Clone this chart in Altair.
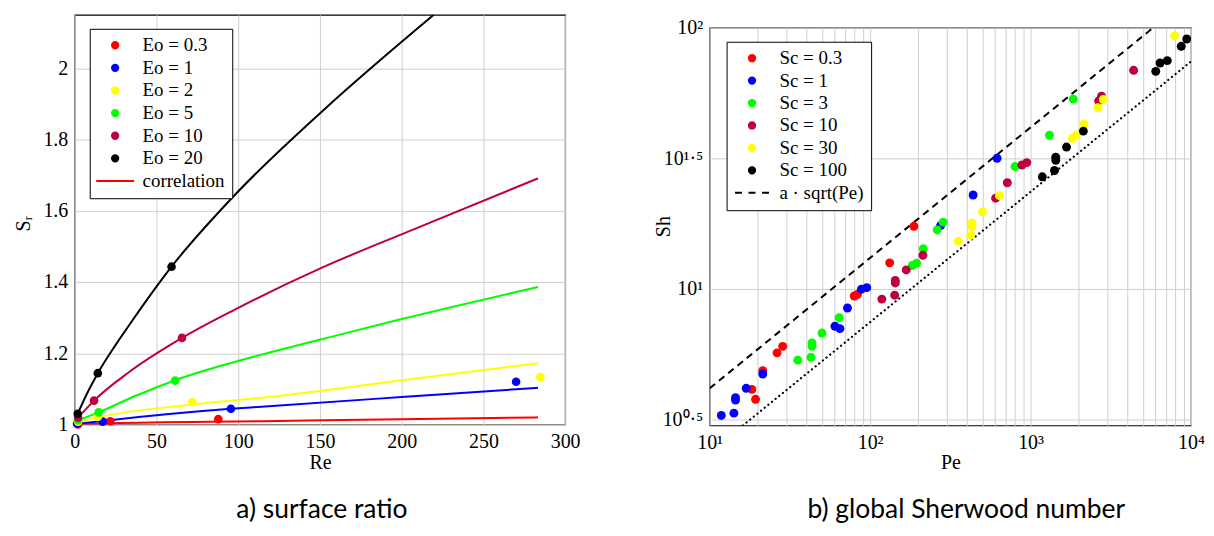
import altair as alt
import pandas as pd

SERIF = "Liberation Serif"

# ---------------- a) surface ratio ----------------
eo_labels = ["Eo = 0.3", "Eo = 1", "Eo = 2", "Eo = 5", "Eo = 10", "Eo = 20", "correlation"]
eo_colors = ["#ff0000", "#0000ff", "#ffff00", "#00ff00", "#bf0040", "#000000", "#ff0000"]
eo_shapes = ["circle"] * 6 + ["M-6,0H6"]

# simulation points (Re, S_r)
pt_re = {
    "Eo = 0.3": [2.0, 21.7, 87.8],
    "Eo = 1": [1.4, 17.1, 95.5, 270.0],
    "Eo = 2": [2.0, 14.2, 71.9, 284.9],
    "Eo = 5": [2.0, 14.6, 61.4],
    "Eo = 10": [2.0, 11.8, 65.6],
    "Eo = 20": [1.8, 14.1, 59.2],
}
pt_sr = {
    "Eo = 0.3": [1.000, 1.009, 1.015],
    "Eo = 1": [1.002, 1.008, 1.044, 1.120],
    "Eo = 2": [1.008, 1.022, 1.0625, 1.133],
    "Eo = 5": [1.012, 1.034, 1.123],
    "Eo = 10": [1.019, 1.067, 1.243],
    "Eo = 20": [1.030, 1.144, 1.443],
}
# correlation curves (Re, S_r)
cu_re = {
    "Eo = 0.3": [2.0, 21.7, 114.2, 200.0, 283.4],
    "Eo = 1": [2.0, 17.1, 95.5, 114.2, 200.0, 283.4],
    "Eo = 2": [2.0, 14.2, 72.0, 114.2, 200.0, 283.4],
    "Eo = 5": [2.0, 14.6, 37.0, 61.9, 114.2, 151.6, 200.0, 283.4],
    "Eo = 10": [2.0, 11.8, 32.9, 65.6, 98.5, 151.6, 204.7, 283.4],
    "Eo = 20": [1.8, 7.5, 14.1, 24.8, 34.5, 59.2, 96.4, 151.6, 219.6],
}
cu_sr = {
    "Eo = 0.3": [1.000, 1.003, 1.009, 1.015, 1.020],
    "Eo = 1": [1.002, 1.010, 1.044, 1.050, 1.077, 1.103],
    "Eo = 2": [1.006, 1.020, 1.056, 1.075, 1.124, 1.172],
    "Eo = 5": [1.012, 1.034, 1.080, 1.125, 1.196, 1.240, 1.296, 1.386],
    "Eo = 10": [1.019, 1.067, 1.146, 1.243, 1.324, 1.441, 1.543, 1.691],
    "Eo = 20": [1.030, 1.087, 1.144, 1.222, 1.287, 1.443, 1.637, 1.880, 2.150],
}

re_ticks = [0, 50, 100, 150, 200, 250, 300]
sr_ticks = [1.0, 1.2, 1.4, 1.6, 1.8, 2.0]

# ---------------- b) global Sherwood number ----------------
sc_labels = ["Sc = 0.3", "Sc = 1", "Sc = 3", "Sc = 10", "Sc = 30", "Sc = 100", "a · sqrt(Pe)"]
sc_colors = ["#ff0000", "#0000ff", "#00ff00", "#bf0040", "#ffff00", "#000000", "#000000"]
sc_shapes = ["circle"] * 6 + ["M-5.4,0H-3.2M-1.1,0H1.1M3.2,0H5.4"]

pe = {
    "Sc = 0.3": [19.32, 18.32, 21.43, 26.30, 28.51, 79.62, 83.37, 132.4, 187.5],
    "Sc = 1": [11.82, 14.16, 14.49, 14.49, 16.90, 21.43, 60.39, 64.86, 72.28, 88.31, 95.28, 274.8, 438.5, 618.0],
    "Sc = 3": [35.40, 42.76, 43.45, 43.45, 50.12, 64.12, 183.2, 195.0, 214.3, 261.8, 285.1, 799.8, 1312, 1845],
    "Sc = 10": [118.3, 142.2, 143.5, 143.5, 167.9, 213.3, 605.3, 716.1, 883.1, 946.2, 2655, 2767, 4385],
    "Sc = 30": [354.0, 422.7, 431.5, 431.5, 501.2, 639.7, 1820, 1928, 2153, 2630, 2838, 7907],
    "Sc = 100": [1183, 1409, 1435, 1435, 1675, 2133, 6026, 6412, 7112, 8690, 9397],
}
sh = {
    "Sc = 0.3": [3.767, 4.111, 4.853, 5.675, 6.012, 9.376, 9.506, 12.56, 17.34],
    "Sc = 1": [3.266, 3.334, 3.819, 3.741, 4.150, 4.710, 7.178, 7.031, 8.433, 9.954, 10.09, 17.46, 22.86, 31.62],
    "Sc = 3": [5.321, 5.458, 6.012, 6.194, 6.761, 7.745, 12.27, 12.53, 14.22, 16.79, 17.99, 29.38, 38.73, 53.33],
    "Sc = 10": [9.120, 9.441, 10.52, 10.76, 11.80, 13.43, 22.23, 25.47, 29.79, 30.41, 52.48, 54.70, 68.71],
    "Sc = 30": [15.21, 16.00, 17.26, 17.86, 19.72, 22.75, 37.67, 38.82, 42.66, 49.43, 53.09, 93.11],
    "Sc = 100": [26.85, 28.38, 31.05, 31.92, 34.91, 40.18, 68.08, 73.28, 74.82, 84.92, 90.57],
}
# upper (dashed, a*sqrt(Pe)) and lower (dotted) bounds, end points
dash_pe = [10.0, 5800.0]
dash_sh = [4.15, 100.0]
dot_pe = [16.1, 10000.0]
dot_sh = [2.99, 74.3]

pe_grid = [m * 10 ** k for k in range(1, 4) for m in range(1, 10)] + [10000]
sh_ticks = [3.1623, 10, 31.623, 100]

# ---------------- build tables ----------------
pts_a = pd.DataFrame([(l, x, y) for l in eo_labels[:6] for x, y in zip(pt_re[l], pt_sr[l])],
                     columns=["label", "Re", "Sr"])
cur_a = pd.DataFrame([(l, x, y) for l in eo_labels[:6] for x, y in zip(cu_re[l], cu_sr[l])],
                     columns=["label", "Re", "Sr"])
pts_b = pd.DataFrame([(l, x, y) for l in sc_labels[:6] for x, y in zip(pe[l], sh[l])],
                     columns=["label", "Pe", "Sh"])
dash_b = pd.DataFrame({"label": sc_labels[6], "Pe": dash_pe, "Sh": dash_sh})
dot_b = pd.DataFrame({"Pe": dot_pe, "Sh": dot_sh})

legend_common = dict(
    title=None, orient="none", strokeColor="black", fillColor="white",
    padding=7, symbolSize=40, symbolStrokeWidth=2,
    labelFont=SERIF, labelFontSize=19, labelColor="black",
    symbolOffset=9, labelOffset=18, cornerRadius=0,
)
axis_text = dict(labelFont=SERIF, labelFontSize=20, labelColor="black", labelPadding=7,
                 titleFont=SERIF, titleFontSize=20, titleFontWeight="normal", titleColor="black")

# ---- panel a ----
sa_col = alt.Scale(domain=eo_labels, range=eo_colors)
sa_shape = alt.Scale(domain=eo_labels, range=eo_shapes)
leg_a = alt.Legend(legendX=15, legendY=14, rowPadding=2.7, **legend_common)

xa = alt.X("Re:Q", scale=alt.Scale(domain=[0, 300], nice=False),
           axis=alt.Axis(values=re_ticks, title="Re", titlePadding=1, labelFlush=False, **axis_text))
ya = alt.Y("Sr:Q", scale=alt.Scale(domain=[1, 2.15], nice=False, zero=False),
           axis=alt.Axis(values=sr_ticks, format=".1~f", title="Sᵣ",
                         titleX=-51, titleY=209, titleAngle=270,
                         titleAlign="center", titleBaseline="middle", **axis_text))

lines_a = alt.Chart(cur_a).mark_line(strokeWidth=2, interpolate="monotone", clip=True).encode(
    x=xa, y=ya,
    stroke=alt.Stroke("label:N", scale=sa_col, legend=leg_a),
)
points_a = alt.Chart(pts_a).mark_point(filled=True, size=75, opacity=1, strokeWidth=0).encode(
    x=xa, y=ya,
    fill=alt.Fill("label:N", scale=sa_col, legend=leg_a),
    shape=alt.Shape("label:N", scale=sa_shape, legend=leg_a),
)
chart_a = alt.layer(lines_a, points_a).properties(
    width=492, height=411,
    title=alt.TitleParams("a) surface ratio", orient="bottom", anchor="middle", frame="group",
                          font="Lato", fontSize=26.5, fontWeight="normal", color="black", offset=25, dx=2),
)

# ---- panel b ----
sb_col = alt.Scale(domain=sc_labels, range=sc_colors)
sb_shape = alt.Scale(domain=sc_labels, range=sc_shapes)
leg_b = alt.Legend(legendX=17, legendY=27, rowPadding=2.5, **legend_common)

pe_label = ("datum.value == 10 ? '10¹' : datum.value == 100 ? '10²' : "
            "datum.value == 1000 ? '10³' : datum.value == 10000 ? '10⁴' : ''")
sh_label = ("datum.value < 5 ? '10⁰·⁵' : datum.value < 20 ? '10¹' : "
            "datum.value < 50 ? '10¹·⁵' : '10²'")
xb = alt.X("Pe:Q", scale=alt.Scale(type="log", domain=[10, 10000], nice=False),
           axis=alt.Axis(values=pe_grid, labelExpr=pe_label, labelOverlap=False, labelFlush=False,
                         title="Pe", titlePadding=0, **axis_text))
yb = alt.Y("Sh:Q", scale=alt.Scale(type="log", domain=[2.99, 100], nice=False),
           axis=alt.Axis(values=sh_ticks, labelExpr=sh_label, labelOverlap=False, labelFlush=False,
                         title="Sh", titleX=-46, titleY=199, titleAngle=270,
                         titleAlign="center", titleBaseline="middle", **axis_text))

dotted_b = alt.Chart(dot_b).mark_line(color="black", strokeWidth=2.2, strokeDash=[0.1, 4.6],
                                      strokeCap="round", clip=True).encode(x=xb, y=yb)
dashed_b = alt.Chart(dash_b).mark_line(strokeWidth=2, strokeDash=[7, 5], clip=True).encode(
    x=xb, y=yb,
    stroke=alt.Stroke("label:N", scale=sb_col, legend=leg_b),
)
points_b = alt.Chart(pts_b).mark_point(filled=True, size=80, opacity=1, strokeWidth=0, clip=True).encode(
    x=xb, y=yb,
    fill=alt.Fill("label:N", scale=sb_col, legend=leg_b),
    shape=alt.Shape("label:N", scale=sb_shape, legend=leg_b),
)
chart_b = alt.layer(dotted_b, dashed_b, points_b).properties(
    width=483, height=399,
    title=alt.TitleParams("b) global Sherwood number", orient="bottom", anchor="middle", frame="group",
                          font="Lato", fontSize=26.5, fontWeight="normal", color="black", offset=24.5, dx=16),
)

# empty strip (no marks) so that panel b sits a little lower than panel a, as in the figure
spacer = alt.Chart(pd.DataFrame({"v": [0]})).transform_filter("false").mark_point(opacity=0).encode(
    x=alt.X("v:Q", axis=None), y=alt.Y("v:Q", axis=None),
).properties(width=483, height=0.5, view=alt.ViewBackground(stroke="transparent"))
right_col = alt.vconcat(spacer, chart_b, spacing=0).resolve_scale(x="independent", y="independent")

chart = alt.hconcat(chart_a, right_col, spacing=72).resolve_scale(
    fill="independent", stroke="independent", shape="independent",
    x="independent", y="independent",
).resolve_legend(fill="independent", stroke="independent", shape="independent").properties(
    padding={"left": 5, "top": 5, "right": 0, "bottom": 0},
).configure_view(stroke="black", strokeWidth=1.2).configure_axis(
    grid=True, gridColor="#cfcfcf", gridWidth=1, domain=False, ticks=False,
    labelFont=SERIF, labelFontSize=20, labelColor="black", labelPadding=7,
    titleFont=SERIF, titleFontSize=20, titleFontWeight="normal", titleColor="black",
)

chart.save("out.html", embed_options={"renderer": "svg", "actions": False})
